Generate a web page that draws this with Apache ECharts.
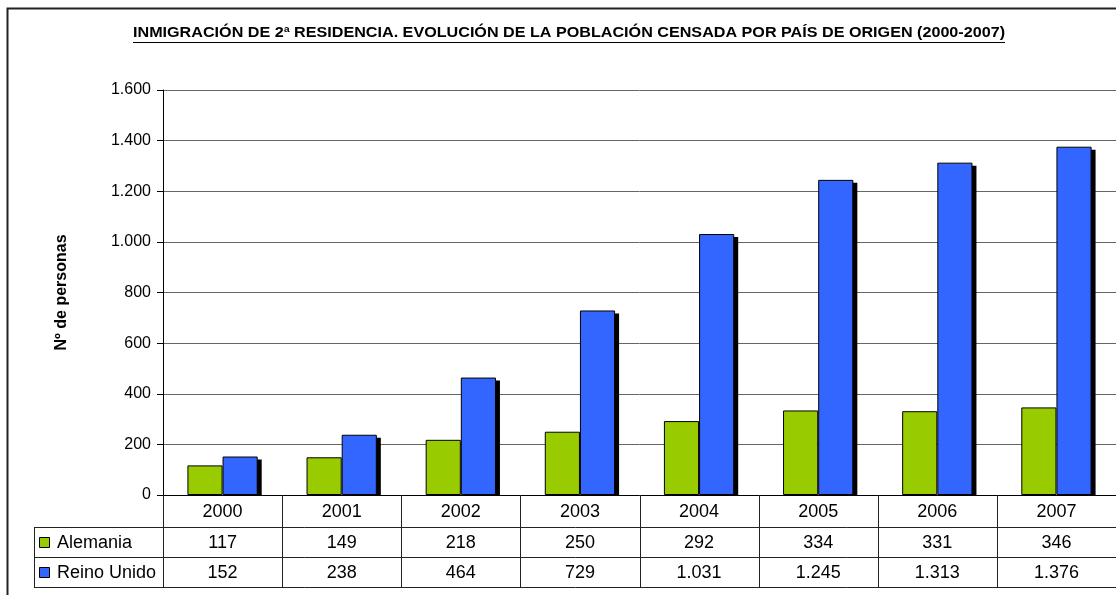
<!DOCTYPE html>
<html>
<head>
<meta charset="utf-8">
<script src="https://cdn.jsdelivr.net/npm/echarts@6/dist/echarts.min.js"></script>
<style>
html,body{margin:0;padding:0;background:#fff;}
#c{width:1116px;height:595px;}
</style>
</head>
<body>
<div id="c"></div>
<script>
const titleText = 'INMIGRACIÓN DE 2ª RESIDENCIA. EVOLUCIÓN DE LA POBLACIÓN CENSADA POR PAÍS DE ORIGEN (2000-2007)';
const years = ['2000','2001','2002','2003','2004','2005','2006','2007'];
const seriesNames = ['Alemania','Reino Unido'];
const alemania = [117,149,218,250,292,334,331,346];
const reinoUnido = [152,238,464,729,1031,1245,1313,1376];
const yTicks = [0,200,400,600,800,1000,1200,1400,1600];
const colors = ['#99cc00','#3366ff'];

const FONT = "'Liberation Sans', Arial, sans-serif";
function fmt(v){ return String(v).replace(/\B(?=(\d{3})+(?!\d))/g,'.'); }

const chart = echarts.init(document.getElementById('c'), null, {renderer:'canvas'});
const GL = 163, GT = 90, GW = 954, GH = 405;
const BAR_FRAC = 0.295;

const barStyle = (c)=>({color:c, borderColor:'#000', borderWidth:1});

// shadow behind bar groups (drawn via axis scale)
function renderShadow(params, api){
  const idx = api.value(0);
  const v = api.value(1);
  const top = api.coord([idx, v]);
  const base = api.coord([idx, 0]);
  const band = api.size([1,0])[0];
  const w = band*BAR_FRAC;
  return {type:'rect', shape:{x:top[0]+4, y:top[1]+3, width:w, height:base[1]-top[1]-3},
    style:{fill:'#000'}, z2:0};
}

chart.setOption({
  animation:false,
  backgroundColor:'#fff',
  grid:{left:GL, top:GT, width:GW, height:GH, containLabel:false},
  xAxis:{type:'category', data:years, axisLine:{show:true, lineStyle:{color:'#000'}},
    axisTick:{show:false}, axisLabel:{show:false}, splitLine:{show:false}},
  yAxis:{type:'value', min:yTicks[0], max:yTicks[yTicks.length-1], interval:200,
    name:'Nº de personas', nameLocation:'middle', nameGap:93,
    nameTextStyle:{fontFamily:FONT, fontWeight:'bold', fontSize:16, color:'#000'},
    axisLine:{show:true, lineStyle:{color:'#000'}},
    axisTick:{show:true, length:6, lineStyle:{color:'#000'}},
    axisLabel:{margin:12, fontFamily:FONT, fontSize:16, color:'#000', formatter:v=>fmt(v)},
    splitLine:{show:true, lineStyle:{color:'#666', width:1}}},
  series:[
    {type:'custom', renderItem:renderShadow, data:reinoUnido.map((v,i)=>[i,v]), z:1, silent:true},
    {name:seriesNames[0], type:'bar', data:alemania, barWidth:(BAR_FRAC*100)+'%', barGap:'0%', itemStyle:barStyle(colors[0]), z:2},
    {name:seriesNames[1], type:'bar', data:reinoUnido, barWidth:(BAR_FRAC*100)+'%', barGap:'0%', itemStyle:barStyle(colors[1]), z:2}
  ]
});

// Build table and decorations from axis geometry
const c0 = chart.convertToPixel({gridIndex:0}, [0,0]);
const c1 = chart.convertToPixel({gridIndex:0}, [1,0]);
const band = c1[0]-c0[0];
const y0 = c0[1];
const rows = [y0, y0+32, y0+62, y0+92];
const legendLeft = 34;
const g = [];
const lineStyle = {stroke:'#222', lineWidth:1};

// title + underline
const ctx = document.createElement('canvas').getContext('2d');
ctx.font = 'bold 15px ' + FONT;
const tw = ctx.measureText(titleText).width;
const targetW = 872;
const sx = targetW/tw;
const tcx = 569, ty = 33;
g.push({type:'text', x:tcx, y:ty, scaleX:sx, style:{text:titleText, fontFamily:FONT, fontWeight:'bold', fontSize:15, fill:'#000', align:'center', verticalAlign:'middle'}, z:10});
g.push({type:'line', shape:{x1:tcx-targetW/2, y1:42.5, x2:tcx+targetW/2, y2:42.5}, style:{stroke:'#000', lineWidth:1.2}, z:10});

// outer border
g.push({type:'rect', shape:{x:7.5, y:8.5, width:1130, height:620}, style:{fill:null, stroke:'#222', lineWidth:2}, z:1});

// white header band
g.push({type:'rect', shape:{x:GL+1, y:y0+1, width:GW+20, height:92}, style:{fill:'#fff'}, z:5});

// horizontal lines
for (let i=1;i<rows.length;i++){
  g.push({type:'line', shape:{x1:legendLeft, y1:Math.round(rows[i])+0.5, x2:GL+GW+20, y2:Math.round(rows[i])+0.5}, style:lineStyle, z:6});
}
g.push({type:'line', shape:{x1:legendLeft+0.5, y1:Math.round(rows[1])+0.5, x2:legendLeft+0.5, y2:Math.round(rows[3])+0.5}, style:lineStyle, z:6});
g.push({type:'line', shape:{x1:GL+0.5, y1:y0, x2:GL+0.5, y2:Math.round(rows[3])+0.5}, style:lineStyle, z:6});
for (let i=1;i<=years.length;i++){
  const x = Math.round(c0[0]-band/2 + i*band)+0.5;
  g.push({type:'line', shape:{x1:x, y1:y0, x2:x, y2:Math.round(rows[3])+0.5}, style:lineStyle, z:6});
}
const rowData = [alemania, reinoUnido];
years.forEach((yr,i)=>{
  const cx = chart.convertToPixel({gridIndex:0}, [i,0])[0];
  g.push({type:'text', x:cx, y:(rows[0]+rows[1])/2+1, style:{text:yr, fontFamily:FONT, fontSize:18, fill:'#000', align:'center', verticalAlign:'middle'}, z:7});
  rowData.forEach((arr,r)=>{
    g.push({type:'text', x:cx, y:(rows[r+1]+rows[r+2])/2+1, style:{text:fmt(arr[i]), fontFamily:FONT, fontSize:18, fill:'#000', align:'center', verticalAlign:'middle'}, z:7});
  });
});
seriesNames.forEach((nm,r)=>{
  const cy = (rows[r+1]+rows[r+2])/2;
  g.push({type:'rect', shape:{x:39.5, y:Math.round(cy-5)+0.5, width:10, height:10}, style:{fill:colors[r], stroke:'#000', lineWidth:1}, z:7});
  g.push({type:'text', x:57, y:cy+1, style:{text:nm, fontFamily:FONT, fontSize:18, fill:'#000', align:'left', verticalAlign:'middle'}, z:7});
});

chart.setOption({graphic:{elements:g}});
</script>
</body>
</html>
